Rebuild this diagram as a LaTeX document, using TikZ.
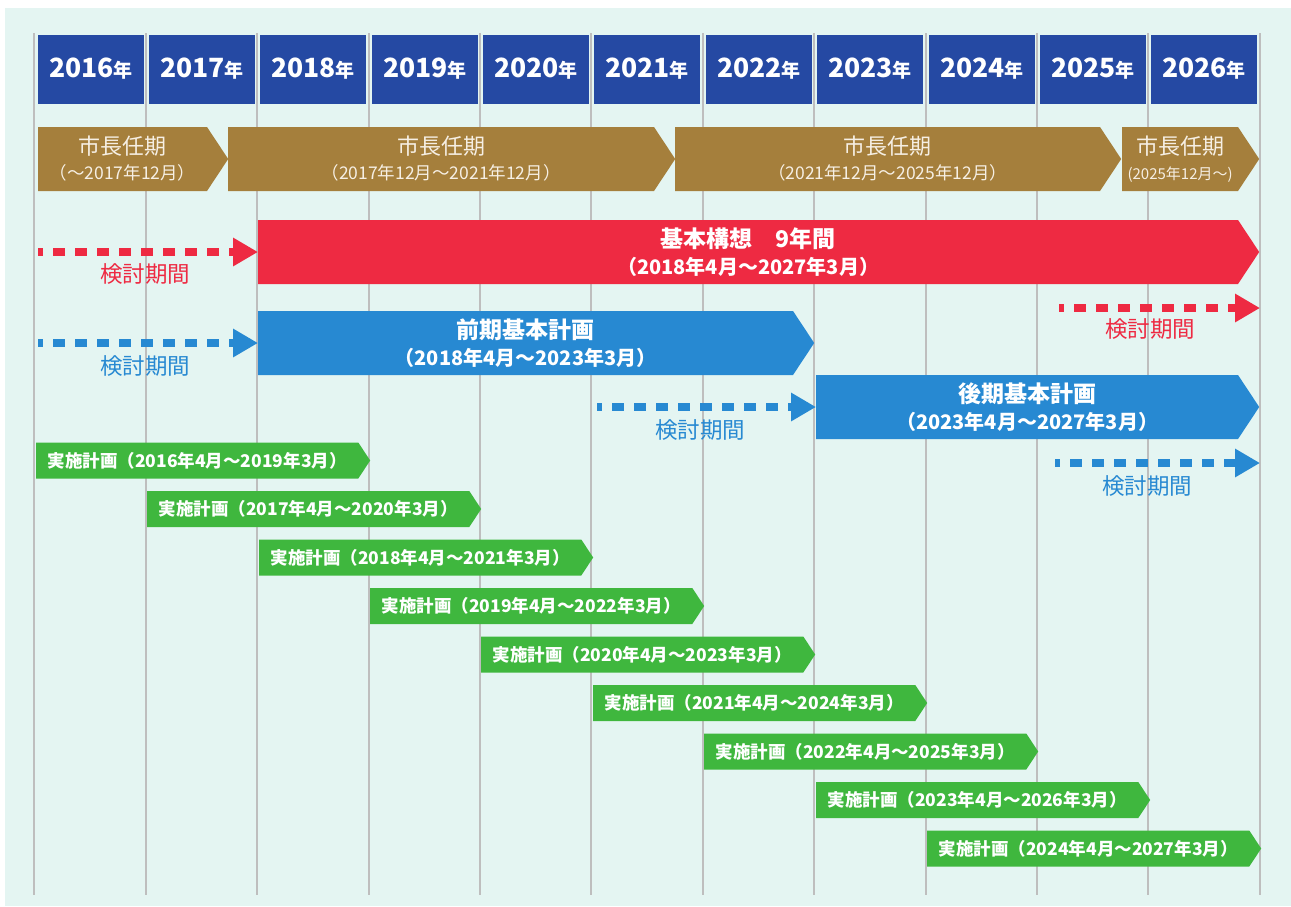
\documentclass[tikz,border=0pt]{standalone}
\usepackage{fontspec}
\setmainfont{Noto Sans CJK JP}
\usetikzlibrary{positioning, arrows.meta, shapes.symbols}

\definecolor{bgmint}{HTML}{E4F5F2}
\definecolor{gridgray}{HTML}{BEBEBE}
\definecolor{headblue}{HTML}{2549A3}
\definecolor{termbrown}{HTML}{A57F3C}
\definecolor{termtext}{HTML}{F6EFE4}
\definecolor{planred}{HTML}{EE2A42}
\definecolor{planblue}{HTML}{2789D2}
\definecolor{implgreen}{HTML}{3FB73E}

\newcommand{\yr}[1]{{\fontsize{26.5}{26.5}\selectfont #1}{\fontsize{19}{19}\selectfont 年}}
\newcommand{\sub}[2]{{\fontsize{#1}{#1}\selectfont #2}}

\tikzset{
  gridline/.style={gridgray, line width=2.5pt},
  yearbox/.style={rectangle, fill=headblue, text=white, font=\bfseries,
    minimum width=106pt, minimum height=69pt, inner sep=0pt},
  bar/.style={signal, signal to=east, signal from=nowhere, signal pointer angle=113,
    inner sep=0pt, anchor=west, align=center},
  termbar/.style={bar, fill=termbrown, text=termtext, minimum height=64pt,
    font=\fontsize{22}{25}\selectfont},
  bigbar/.style={bar, minimum height=64pt, text=white, font=\bfseries\fontsize{23}{27}\selectfont},
  implbar/.style={bar, fill=implgreen, text=white, minimum width=334pt, minimum height=36pt,
    font=\bfseries\fontsize{17.5}{17.5}\selectfont},
  dashline/.style={line width=8pt, dash pattern=on 12pt off 10pt, dash phase=7pt,
    -{Triangle[length=25pt, width=27pt]}},
  reddashed/.style={dashline, planred},
  bluedashed/.style={dashline, planblue},
  redtext/.style={text=planred, font=\fontsize{22.5}{22.5}\selectfont},
  bluetext/.style={text=planblue, font=\fontsize{22.5}{22.5}\selectfont},
}

\begin{document}
\begin{tikzpicture}[x=1pt, y=-1pt]
    \useasboundingbox (0,0) rectangle (1291,906);
    \fill[bgmint] (5,8) rectangle (1291,906);

    % year grid
    \draw[gridline] (34,33) -- (34,895);
    \draw[gridline] (146,33) -- (146,895);
    \draw[gridline] (257,33) -- (257,895);
    \draw[gridline] (369,33) -- (369,895);
    \draw[gridline] (480,33) -- (480,895);
    \draw[gridline] (591,33) -- (591,895);
    \draw[gridline] (703,33) -- (703,895);
    \draw[gridline] (814,33) -- (814,895);
    \draw[gridline] (926,33) -- (926,895);
    \draw[gridline] (1037,33) -- (1037,895);
    \draw[gridline] (1148,33) -- (1148,895);
    \draw[gridline] (1260,33) -- (1260,895);

    \node (y2016) at (91,69)   [yearbox] {\yr{2016}};
    \node (y2017) at (202,69)  [yearbox] {\yr{2017}};
    \node (y2018) at (313,69)  [yearbox] {\yr{2018}};
    \node (y2019) at (425,69)  [yearbox] {\yr{2019}};
    \node (y2020) at (536,69)  [yearbox] {\yr{2020}};
    \node (y2021) at (647,69)  [yearbox] {\yr{2021}};
    \node (y2022) at (759,69)  [yearbox] {\yr{2022}};
    \node (y2023) at (870,69)  [yearbox] {\yr{2023}};
    \node (y2024) at (982,69)  [yearbox] {\yr{2024}};
    \node (y2025) at (1093,69) [yearbox] {\yr{2025}};
    \node (y2026) at (1204,69) [yearbox] {\yr{2026}};

    % mayor terms
    \node (term1) at (38,159)   [termbar, minimum width=190pt] {市長任期\\\sub{17.5}{（～2017年12月）}};
    \node (term2) at (228,159)  [termbar, minimum width=447pt] {市長任期\\\sub{17.5}{（2017年12月～2021年12月）}};
    \node (term3) at (675,159)  [termbar, minimum width=446pt] {市長任期\\\sub{17.5}{（2021年12月～2025年12月）}};
    \node (term4) at (1122,159) [termbar, minimum width=137pt] {市長任期\\\sub{15}{(2025年12月～)}};

    % plans
    \node (plan9)  at (258,252) [bigbar, fill=planred, minimum width=1001pt] {基本構想　9年間\\\sub{20}{（2018年4月～2027年3月）}};
    \node (planA) at (258,343) [bigbar, fill=planblue, minimum width=556pt] {前期基本計画\\\sub{20}{（2018年4月～2023年3月）}};
    \node (planB) at (816,407) [bigbar, fill=planblue, minimum width=443pt] {後期基本計画\\\sub{20}{（2023年4月～2027年3月）}};

    % study periods
    \coordinate (redfrom1) at (38,252);
    \coordinate (redfrom2) at (1059,308);
    \coordinate (redto2) at (1260,308);
    \coordinate (bluefrom1) at (38,343);
    \coordinate (bluefrom2) at (597,407);
    \coordinate (bluefrom3) at (1055,463);
    \coordinate (blueto3) at (1260,463);
    \draw[reddashed] (redfrom1) -- (plan9.west);
    \draw[reddashed] (redfrom2) -- (redto2);
    \draw[bluedashed] (bluefrom1) -- (planA.west);
    \draw[bluedashed] (bluefrom2) -- (planB.west);
    \draw[bluedashed] (bluefrom3) -- (blueto3);
    \node (redlabel1) at (145,274)  [redtext] {検討期間};
    \node (redlabel2) at (1150,329) [redtext] {検討期間};
    \node (bluelabel1) at (145,366)  [bluetext] {検討期間};
    \node (bluelabel2) at (700,430)  [bluetext] {検討期間};
    \node (bluelabel3) at (1147,486) [bluetext] {検討期間};

    % implementation plans
    \node (impl2016) at (36,460.5)  [implbar] {実施計画（2016年4月～2019年3月）};
    \node (impl2017) at (147,509)   [implbar] {実施計画（2017年4月～2020年3月）};
    \node (impl2018) at (259,557.5) [implbar] {実施計画（2018年4月～2021年3月）};
    \node (impl2019) at (370,606)   [implbar] {実施計画（2019年4月～2022年3月）};
    \node (impl2020) at (481,654.5) [implbar] {実施計画（2020年4月～2023年3月）};
    \node (impl2021) at (593,703)   [implbar] {実施計画（2021年4月～2024年3月）};
    \node (impl2022) at (704,751.5) [implbar] {実施計画（2022年4月～2025年3月）};
    \node (impl2023) at (816,800)   [implbar] {実施計画（2023年4月～2026年3月）};
    \node (impl2024) at (927,848.5) [implbar] {実施計画（2024年4月～2027年3月）};
\end{tikzpicture}
\end{document}
